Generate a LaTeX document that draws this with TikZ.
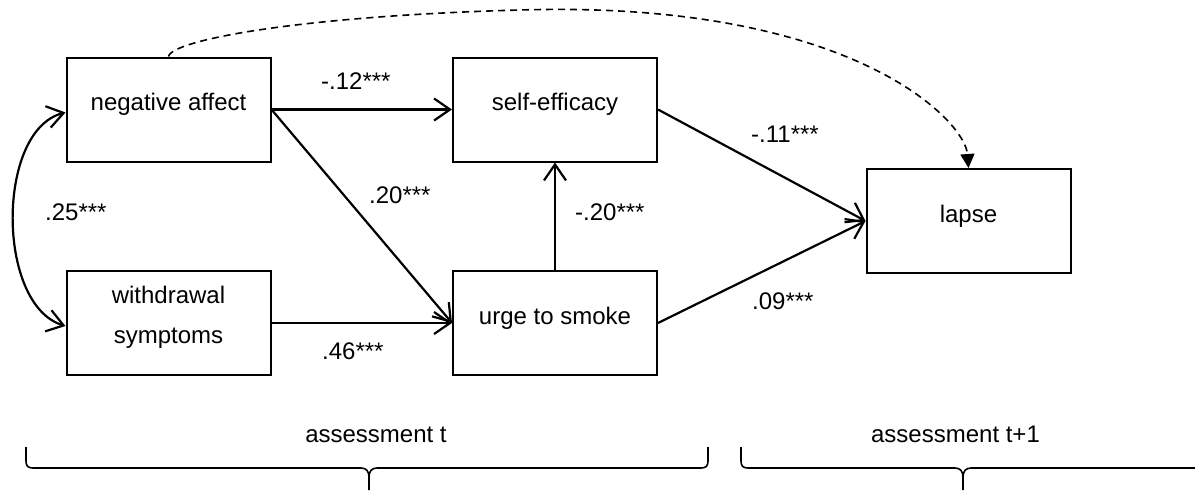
\documentclass[tikz,border=0pt]{standalone}
\usepackage{fontspec}
\setmainfont{Liberation Sans}
\usetikzlibrary{arrows.meta}
\begin{document}
\begin{tikzpicture}[x=1pt,y=-1pt,
  box/.style={draw, line width=2pt, minimum width=204pt, minimum height=104pt, inner sep=0pt},
  txt/.style={font=\fontsize{24}{28}\selectfont, inner sep=0pt, anchor=base},
  lab/.style={font=\fontsize{24}{28}\selectfont, inner sep=0pt, anchor=base west},
  barb/.tip={Straight Barb[length=16pt,width=22pt]},
  arr/.style={line width=2.2pt, -{barb}},
  darr/.style={line width=2.2pt, {barb}-{barb}},
  dashedarrow/.style={line width=1.6pt, dash pattern=on 7pt off 5pt, -{Triangle[length=14pt,width=14pt]}},
  bracestyle/.style={line width=1.6pt}]
\useasboundingbox (0,0) rectangle (1195,493);
% boxes
\node[box] (na) at (168.5,109.5) {};
\node[box] (se) at (555,109.5) {};
\node[box] (us) at (555,323) {};
\node[box] (ws) at (168.5,323) {};
\node[box] (lp) at (968.5,221) {};
% box texts
\node[txt] (tna) at (168.5,110) {negative affect};
\node[txt] (tse) at (555,110) {self-efficacy};
\node[txt] (tus) at (555,324) {urge to smoke};
\node[txt] (tws1) at (168.5,303) {withdrawal};
\node[txt] (tws2) at (168.5,343) {symptoms};
\node[txt] (tlp) at (968.5,222) {lapse};
% connectors
\draw[arr] (na.east) -- (se.west);
\draw[arr] (na.east) -- (us.west);
\draw[arr] (ws.east) -- (us.west);
\draw[arr] (us.north) -- (se.south);
\draw[arr] (se.east) -- (lp.west);
\draw[arr] (us.east) -- (lp.west);
\draw[darr] ([yshift=-3pt]na.west) .. controls (-4,130) and (-4,305) .. ([yshift=-3pt]ws.west);
\draw[dashedarrow] (na.north) .. controls (172,40) and (300,16) .. (520,10) .. controls (850,0) and (965,120) .. (lp.north);
% coefficient labels
\node[lab] (l1) at (321,89) {-.12***};
\node[lab] (l2) at (369,203) {.20***};
\node[lab] (l3) at (322,359) {.46***};
\node[lab] (l4) at (575,220) {-.20***};
\node[lab] (l5) at (751,142) {-.11***};
\node[lab] (l6) at (752,309) {.09***};
\node[lab] (l7) at (45,220) {.25***};
% braces
\draw[bracestyle] (26,447) -- (26,461) .. controls (26,466) and (28,468) .. (33,468) -- (361,468)
  .. controls (366,468) and (369,471) .. (369,477) -- (369,490) -- (369,477)
  .. controls (369,471) and (372,468) .. (377,468) -- (701,468)
  .. controls (706,468) and (708,466) .. (708,461) -- (708,447);
\draw[bracestyle] (741,447) -- (741,461) .. controls (741,466) and (743,468) .. (748,468) -- (955,468)
  .. controls (960,468) and (963,471) .. (963,477) -- (963,490) -- (963,477)
  .. controls (963,471) and (966,468) .. (971,468) -- (1195,468);
\node[txt] (at) at (376,442) {assessment t};
\node[txt] (at1) at (955.5,442) {assessment t+1};
\end{tikzpicture}
\end{document}
